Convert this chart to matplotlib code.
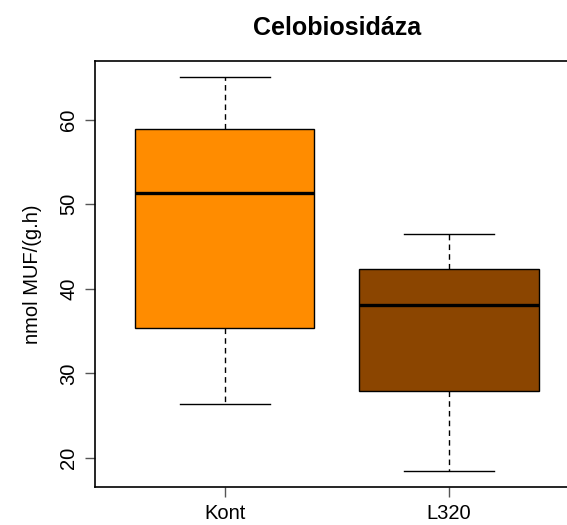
import matplotlib
matplotlib.use("Agg")
import matplotlib.pyplot as plt

plt.rcParams['font.family'] = ['Liberation Sans', 'DejaVu Sans']

# box statistics
groups = ['Kont', 'L320']
whisker_low = [26.4, 18.45]
q1 = [35.4, 27.9]
median = [51.3, 38.1]
q3 = [58.9, 42.4]
whisker_high = [65.0, 46.5]
colors = ['#FF8C00', '#8B4500']

yticks = [20, 30, 40, 50, 60]


def main():
    fig = plt.figure(figsize=(5.67, 5.25), dpi=100)
    # plot region runs past the right edge, like the original
    ax = fig.add_axes([0.1672, 0.0724, 0.854, 0.8105])

    stats = []
    for i, g in enumerate(groups):
        stats.append(dict(label=g, whislo=whisker_low[i], q1=q1[i], med=median[i],
                          q3=q3[i], whishi=whisker_high[i], fliers=[]))

    bp = ax.bxp(stats, positions=[1, 2], widths=0.8, patch_artist=True,
                showfliers=False,
                boxprops=dict(edgecolor='black', linewidth=1),
                medianprops=dict(color='black', linewidth=2.4, solid_capstyle='butt'),
                whiskerprops=dict(color='black', linewidth=1, linestyle=(0, (4, 3))),
                capprops=dict(color='black', linewidth=1),
                capwidths=0.4)
    for patch, c in zip(bp['boxes'], colors):
        patch.set_facecolor(c)

    lo = min(whisker_low)
    hi = max(whisker_high)
    pad = (hi - lo) * 0.04
    ax.set_ylim(lo - pad, hi + pad)
    ax.set_xlim(0.42, 2.58)

    ax.set_yticks(yticks)
    ax.set_yticklabels([str(t) for t in yticks], rotation=90, va='center')
    ax.set_xticks([1, 2])
    ax.set_xticklabels(groups)
    ax.tick_params(labelsize=14.5, length=7, width=1, color='#555555', pad=5)

    for s in ax.spines.values():
        s.set_linewidth(1.2)

    ax.set_ylabel('nmol MUF/(g.h)', fontsize=14.5, labelpad=12)
    fig.text(337 / 567, 1 - 28 / 525, 'Celobiosidáza', ha='center', va='center',
             fontsize=18, fontweight='bold')

    fig.savefig('out.png', dpi=100)


if __name__ == "__main__":
    main()
